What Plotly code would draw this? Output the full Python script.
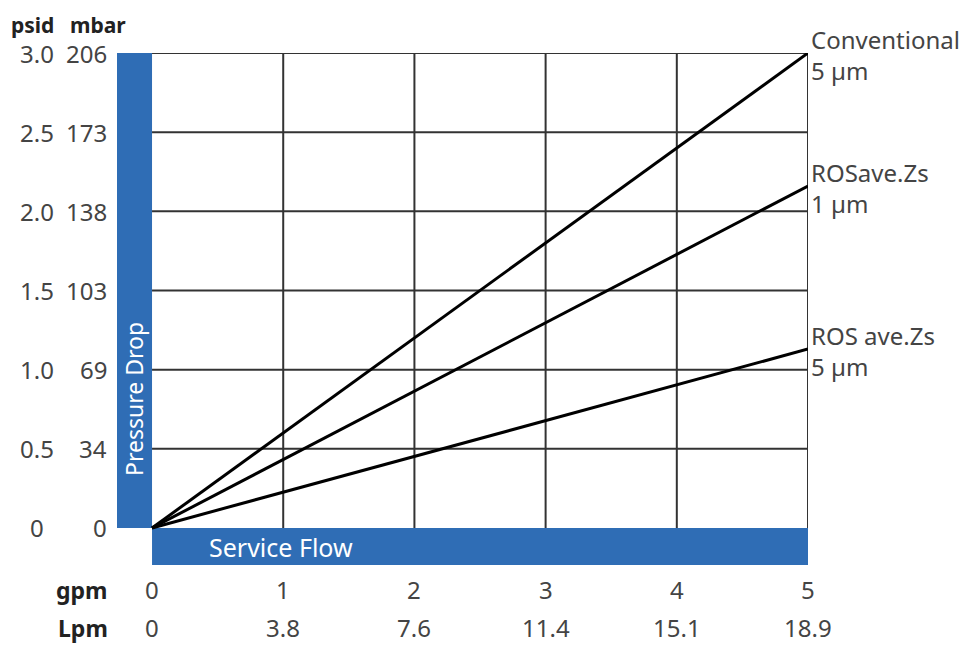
import plotly.graph_objects as go

# ---- data ----
flow_gpm = [0, 1, 2, 3, 4, 5]
flow_lpm_labels = ["0", "3.8", "7.6", "11.4", "15.1", "18.9"]
psid_ticks = [0, 0.5, 1.0, 1.5, 2.0, 2.5, 3.0]
psid_labels = ["0", "0.5", "1.0", "1.5", "2.0", "2.5", "3.0"]
mbar_labels = ["0", "34", "69", "103", "138", "173", "206"]

series_names = ["Conventional<br>5 µm", "ROSave.Zs<br>1 µm", "ROS ave.Zs<br>5 µm"]
series_x = [0, 5]
conventional = [0, 3.0]
rosave_1um = [0, 2.16]
rosave_5um = [0, 1.13]
series_vals = [conventional, rosave_1um, rosave_5um]

BLUE = "#2f6db5"
GRID = "#333333"
TXT = "#444444"
DARK = "#222222"
FONT = "Noto Sans"
FS = 24

fig = go.Figure()

# blue axis bands
fig.add_shape(type="rect", xref="x", yref="y", x0=-0.267, x1=0, y0=0, y1=3.0,
              fillcolor=BLUE, line_width=0, layer="below")
fig.add_shape(type="rect", xref="x", yref="y", x0=0, x1=5, y0=-0.234, y1=0,
              fillcolor=BLUE, line_width=0, layer="below")

# grid
for xv in flow_gpm[1:]:
    fig.add_shape(type="line", xref="x", yref="y", x0=xv, x1=xv, y0=0, y1=3.0,
                  line=dict(color=GRID, width=2), layer="below")
for yv in psid_ticks[1:]:
    fig.add_shape(type="line", xref="x", yref="y", x0=0, x1=5, y0=yv, y1=yv,
                  line=dict(color=GRID, width=2), layer="below")

# series lines + right labels
for name, vals in zip(series_names, series_vals):
    fig.add_trace(go.Scatter(x=series_x, y=vals, mode="lines",
                             line=dict(color="black", width=3), name=name,
                             showlegend=False, hoverinfo="skip"))
    fig.add_annotation(x=series_x[-1], y=vals[-1], xref="x", yref="y",
                       text=name, showarrow=False, xanchor="left", yanchor="middle",
                       xshift=1, yshift=-2, align="left",
                       font=dict(family=FONT, size=FS, color=TXT))

# y tick labels
for yv, pl, ml in zip(psid_ticks, psid_labels, mbar_labels):
    fig.add_annotation(x=0, y=yv, xref="x", yref="y", text=pl, showarrow=False,
                       xanchor="center", yanchor="middle", xshift=-115,
                       font=dict(family=FONT, size=FS, color=TXT))
    fig.add_annotation(x=0, y=yv, xref="x", yref="y", text=ml, showarrow=False,
                       xanchor="right", yanchor="middle", xshift=-43,
                       font=dict(family=FONT, size=FS, color=TXT))

# headers
fig.add_annotation(x=0, y=3.0, xref="x", yref="y", text="<b>psid</b>", showarrow=False,
                   xanchor="center", yanchor="middle", xshift=-120, yshift=28,
                   font=dict(family=FONT, size=21, color=DARK))
fig.add_annotation(x=0, y=3.0, xref="x", yref="y", text="<b>mbar</b>", showarrow=False,
                   xanchor="center", yanchor="middle", xshift=-54, yshift=28,
                   font=dict(family=FONT, size=21, color=DARK))

# x tick labels
for xv, ll in zip(flow_gpm, flow_lpm_labels):
    fig.add_annotation(x=xv, y=0, xref="x", yref="y", text=str(xv), showarrow=False,
                       xanchor="center", yanchor="middle", yshift=-62,
                       font=dict(family=FONT, size=FS, color=TXT))
    fig.add_annotation(x=xv, y=0, xref="x", yref="y", text=ll, showarrow=False,
                       xanchor="center", yanchor="middle", yshift=-100,
                       font=dict(family=FONT, size=FS, color=TXT))
fig.add_annotation(x=0, y=0, xref="x", yref="y", text="<b>gpm</b>", showarrow=False,
                   xanchor="right", yanchor="middle", xshift=-42, yshift=-62,
                   font=dict(family=FONT, size=FS - 1, color=DARK))
fig.add_annotation(x=0, y=0, xref="x", yref="y", text="<b>Lpm</b>", showarrow=False,
                   xanchor="right", yanchor="middle", xshift=-42, yshift=-100,
                   font=dict(family=FONT, size=FS - 1, color=DARK))

# band titles
fig.add_annotation(x=0, y=0, xref="x", yref="y", text="Service Flow", showarrow=False,
                   xanchor="left", yanchor="middle", xshift=55, yshift=-19,
                   font=dict(family=FONT, size=25, color="white"))
fig.add_annotation(x=0, y=0, xref="x", yref="y", text="Pressure Drop", showarrow=False,
                   textangle=-90, xanchor="center", yanchor="bottom", xshift=-18, yshift=50,
                   font=dict(family=FONT, size=23, color="white"))

fig.update_xaxes(range=[-0.267, 5], visible=False, fixedrange=True)
fig.update_yaxes(range=[-0.234, 3.0], visible=False, fixedrange=True)
# page body has an 8px margin, so the figure is offset by (8, 8)
fig.update_layout(width=968, height=640, margin=dict(l=109, r=168, t=45, b=83),
                  plot_bgcolor="white", paper_bgcolor="white", showlegend=False)

fig.write_html("out.html")
